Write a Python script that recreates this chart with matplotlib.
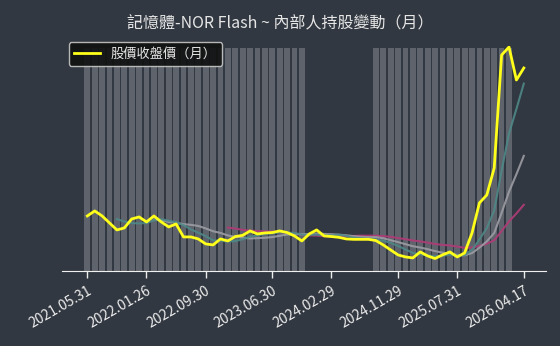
import matplotlib
matplotlib.use("Agg")
import matplotlib.pyplot as plt
import pandas as pd

plt.rcParams['font.family'] = ['Noto Sans CJK TC', 'DejaVu Sans']

# 月收盤價 (2021.05 ~ 2026.04), 由圖估計
close = [37.5, 40, 37.5, 34, 30.5, 31.5, 36, 37, 34.5, 37.5,
         34.5, 32, 33.5, 27, 27, 26, 23.5, 23, 26, 25,
         27.2, 27.8, 30, 28.5, 29, 29.2, 30, 29.2, 27.5, 25,
         28.5, 30.5, 27.5, 27.2, 26.8, 26, 25.8, 25.8, 25.8, 25.2,
         23, 20.5, 18, 17, 16.5, 19.5, 17.5, 16.2, 18, 19.5,
         17, 19, 29, 44, 48, 61.5, 118, 122, 105.5, 111.5]

# 內部人持股變動月份 (1 = 有變動)
changed = [1] * 30 + [0] * 9 + [1] * 19 + [0] * 2

tick_pos = [0, 8, 16, 25, 33, 42, 50, 59]
tick_labels = ['2021.05.31', '2022.01.26', '2022.09.30', '2023.06.30',
               '2024.02.29', '2024.11.29', '2025.07.31', '2026.04.17']

bg = '#323841'
fig = plt.figure(figsize=(5.6, 3.46), dpi=100, facecolor=bg)
ax = fig.add_axes([0.111, 0.217, 0.864, 0.65])
ax.set_facecolor(bg)

x = list(range(len(close)))
ax.bar(x, changed, width=0.78, color='#5f636b', zorder=1)
ax.set_ylim(0, 1.01)
ax.set_yticks([])

ax2 = ax.twinx()
s = pd.Series(close)
ax2.plot(x, s.rolling(20).mean(), color='#b03c78', lw=1.5, alpha=0.9)
ax2.plot(x, s.rolling(10).mean(), color='#9c9ca4', lw=1.5, alpha=0.9)
ax2.plot(x, s.rolling(5).mean(), color='#4e8888', lw=1.5, alpha=0.9)
ax2.plot(x, close, color='#ffff1a', lw=2, label='股價收盤價（月）')
ax2.set_ylim(10, 122.5)
ax2.set_yticks([])

ax.set_xlim(-3.4, 62)
ax.set_xticks(tick_pos)
ax.set_xticklabels(tick_labels, rotation=30, ha='right', rotation_mode='anchor',
                   fontsize=10, color='#ececec')
ax.tick_params(axis='x', colors='#ececec', length=5, width=1, pad=4)
for a in (ax, ax2):
    for side in ('top', 'right', 'left'):
        a.spines[side].set_visible(False)
ax2.spines['bottom'].set_visible(False)
ax.spines['bottom'].set_color('#f0f0f0')

leg = ax2.legend(loc='upper left', bbox_to_anchor=(0.0, 1.045), fontsize=9.5,
                 facecolor='#101010', edgecolor='#c8c8c8', framealpha=0.9,
                 labelcolor='#e6e6e6', handlelength=2.0)

fig.text(0.5, 0.93, '記憶體-NOR Flash ~ 內部人持股變動（月）', ha='center',
         va='center', fontsize=11.5, color='#e6e6e6')

fig.savefig('out.png', dpi=100, facecolor=bg)
